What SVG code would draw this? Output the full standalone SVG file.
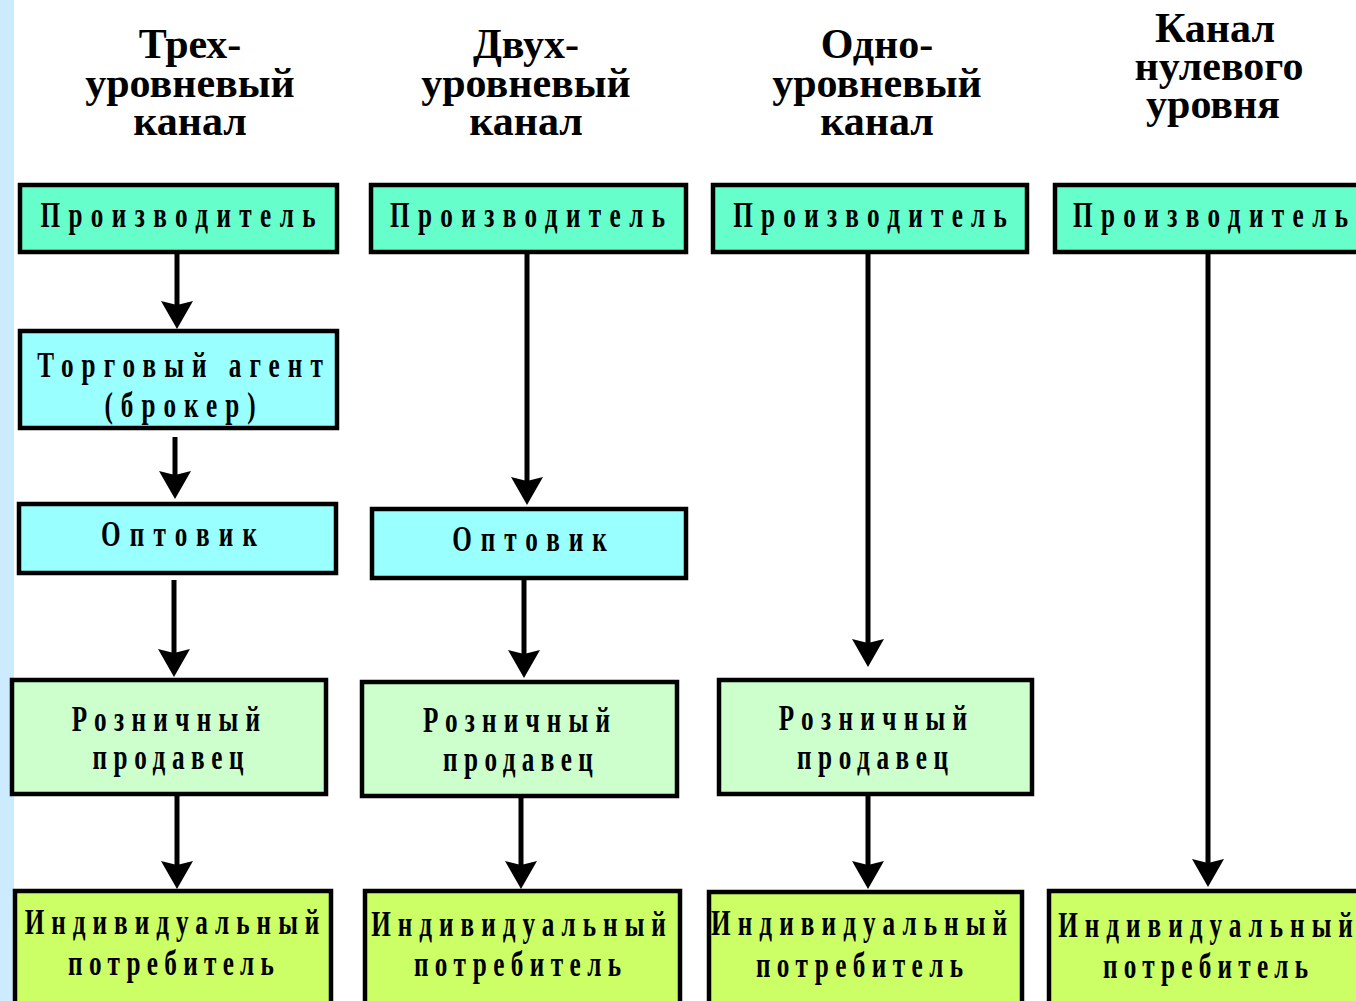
<svg xmlns="http://www.w3.org/2000/svg" width="1356" height="1001" viewBox="0 0 1356 1001">
<style>
.box{stroke:#000;stroke-width:4.5}
.p{fill:#66FFCC}
.m{fill:#99FFFF}
.r{fill:#CCFFCC}
.c{fill:#CCFF66}
.t{font-family:"Liberation Serif","Times New Roman",serif;font-weight:bold;font-size:36px;fill:#000;text-anchor:middle}
.h{font-family:"Liberation Serif","Times New Roman",serif;font-weight:bold;font-size:42px;fill:#000;text-anchor:middle}
.a{stroke:#000;stroke-width:5;fill:none;marker-end:url(#ah)}
</style>
<defs>
<marker id="ah" markerUnits="userSpaceOnUse" viewBox="0 -16 28 32" markerWidth="28" markerHeight="32" refX="18" refY="0" orient="auto">
<path d="M0,-16 L28,0 L0,16 L4,0 Z" fill="#000"/>
</marker>
</defs>
<rect width="1356" height="1001" fill="#fff"/>
<rect x="0" y="0" width="14" height="1001" fill="#CCEBFF"/>

<g id="titles">
<text class="h" x="190" y="58">Трех-</text>
<text class="h" x="190" y="97">уровневый</text>
<text class="h" x="190" y="135">канал</text>
<text class="h" x="526" y="58">Двух-</text>
<text class="h" x="526" y="97">уровневый</text>
<text class="h" x="526" y="135">канал</text>
<text class="h" x="877" y="58">Одно-</text>
<text class="h" x="877" y="97">уровневый</text>
<text class="h" x="877" y="135">канал</text>
<text class="h" x="1215" y="42">Канал</text>
<text class="h" x="1219" y="80">нулевого</text>
<text class="h" x="1213" y="118">уровня</text>
</g>

<g id="connectors">
<line class="a" x1="177" y1="254" x2="177" y2="319"/>
<line class="a" x1="175" y1="437" x2="175" y2="489"/>
<line class="a" x1="174" y1="580" x2="174" y2="667"/>
<line class="a" x1="177" y1="796" x2="177" y2="879"/>
<line class="a" x1="527" y1="254" x2="527" y2="495"/>
<line class="a" x1="524" y1="580" x2="524" y2="668"/>
<line class="a" x1="521" y1="797" x2="521" y2="879"/>
<line class="a" x1="868" y1="254" x2="868" y2="657"/>
<line class="a" x1="868" y1="796" x2="868" y2="879"/>
<line class="a" x1="1208" y1="254" x2="1208" y2="877"/>
</g>

<g id="c1-producer"><rect class="box p" x="20" y="185" width="317" height="67"/>
<text class="t" transform="translate(178,227) scale(0.7,1)" textLength="393">Производитель</text></g>
<g id="c1-agent"><rect class="box m" x="20" y="331" width="317" height="97"/>
<text class="t" transform="translate(180,377) scale(0.7,1)" textLength="408">Торговый агент</text>
<text class="t" transform="translate(180,417) scale(0.7,1)" textLength="216">(брокер)</text></g>
<g id="c1-wholesaler"><rect class="box m" x="19" y="504" width="317" height="69"/>
<text class="t" transform="translate(179,546) scale(0.7,1)" textLength="223">Оптовик</text></g>
<g id="c1-retailer"><rect class="box r" x="12" y="680" width="314" height="114"/>
<text class="t" transform="translate(166,731) scale(0.7,1)" textLength="269">Розничный</text>
<text class="t" transform="translate(168,769) scale(0.7,1)" textLength="216">продавец</text></g>
<g id="c1-consumer"><rect class="box c" x="15" y="891" width="316" height="120"/>
<text class="t" transform="translate(172,934) scale(0.7,1)" textLength="421">Индивидуальный</text>
<text class="t" transform="translate(171,975) scale(0.7,1)" textLength="294">потребитель</text></g>

<g id="c2-producer"><rect class="box p" x="371" y="185" width="315" height="67"/>
<text class="t" transform="translate(527.5,227) scale(0.7,1)" textLength="393">Производитель</text></g>
<g id="c2-wholesaler"><rect class="box m" x="372" y="509" width="314" height="69"/>
<text class="t" transform="translate(529.5,551) scale(0.7,1)" textLength="221">Оптовик</text></g>
<g id="c2-retailer"><rect class="box r" x="362" y="682" width="315" height="114"/>
<text class="t" transform="translate(516.5,732) scale(0.7,1)" textLength="267">Розничный</text>
<text class="t" transform="translate(518,771) scale(0.7,1)" textLength="214">продавец</text></g>
<g id="c2-consumer"><rect class="box c" x="365" y="891" width="315" height="120"/>
<text class="t" transform="translate(518.5,936) scale(0.7,1)" textLength="421">Индивидуальный</text>
<text class="t" transform="translate(517.5,976) scale(0.7,1)" textLength="296">потребитель</text></g>

<g id="c3-producer"><rect class="box p" x="713" y="185" width="314" height="67"/>
<text class="t" transform="translate(870,227) scale(0.7,1)" textLength="391">Производитель</text></g>
<g id="c3-retailer"><rect class="box r" x="719" y="680" width="313" height="114"/>
<text class="t" transform="translate(873,730) scale(0.7,1)" textLength="269">Розничный</text>
<text class="t" transform="translate(872.5,769) scale(0.7,1)" textLength="216">продавец</text></g>
<g id="c3-consumer"><rect class="box c" x="709" y="892" width="313" height="120"/>
<text class="t" transform="translate(859,935) scale(0.7,1)" textLength="423">Индивидуальный</text>
<text class="t" transform="translate(859.5,977) scale(0.7,1)" textLength="296">потребитель</text></g>

<g id="c4-producer"><rect class="box p" x="1055" y="185" width="310" height="67"/>
<text class="t" transform="translate(1210.5,227) scale(0.7,1)" textLength="393">Производитель</text></g>
<g id="c4-consumer"><rect class="box c" x="1049" y="891" width="310" height="120"/>
<text class="t" transform="translate(1205.5,937) scale(0.7,1)" textLength="421">Индивидуальный</text>
<text class="t" transform="translate(1205.5,978) scale(0.7,1)" textLength="293">потребитель</text></g>
</svg>
